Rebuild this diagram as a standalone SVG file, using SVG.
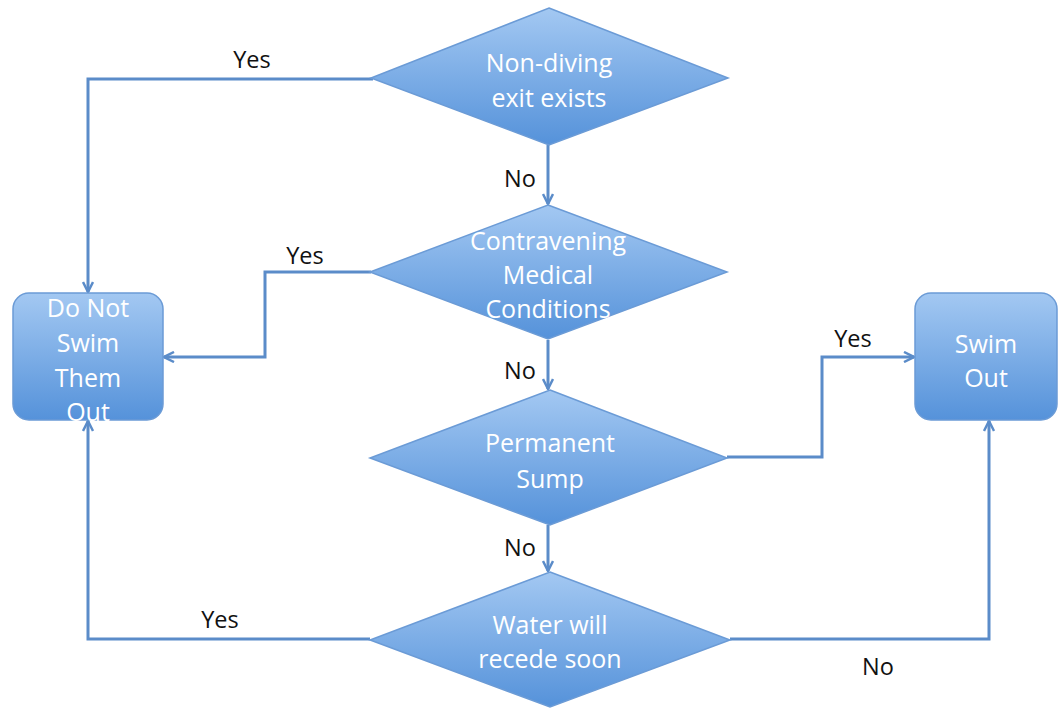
<svg xmlns="http://www.w3.org/2000/svg" width="1058" height="708" viewBox="0 0 1058 708">
<style>
.node{stroke:#6b9bd6;stroke-width:1.5;fill:url(#g)}
.nt{fill:#ffffff;font-family:"Open Sans",Lato,"Liberation Sans",sans-serif;font-size:25px;text-anchor:middle}
.lbl{fill:#111111;font-family:"Open Sans",Lato,"Liberation Sans",sans-serif;font-size:23.5px;text-anchor:middle}
.c{fill:none;stroke:#5b8cc9;stroke-width:3;marker-end:url(#a)}
</style>
<defs>
<linearGradient id="g" x1="0" y1="0" x2="0" y2="1">
<stop offset="0" stop-color="#a3c8f2"/>
<stop offset="1" stop-color="#5592da"/>
</linearGradient>
<marker id="a" viewBox="0 0 12 12" refX="11" refY="6" markerWidth="12" markerHeight="12" markerUnits="userSpaceOnUse" orient="auto">
<path d="M1,1 L11,6 L1,11" fill="none" stroke="#5b8cc9" stroke-width="2.5"/>
</marker>
</defs>
<g id="connectors">
<path class="c" d="M373,79 H88 V292"/>
<path class="c" d="M548,145 V204"/>
<path class="c" d="M371,272 H265 V357 H164"/>
<path class="c" d="M548,340 V389"/>
<path class="c" d="M727,457 H822 V357 H914"/>
<path class="c" d="M548,525 V571"/>
<path class="c" d="M370,639 H88 V421"/>
<path class="c" d="M730,639 H989 V421"/>
</g>
<g id="labels">
<text class="lbl" x="252" y="68">Yes</text>
<text class="lbl" x="520" y="187">No</text>
<text class="lbl" x="305" y="264">Yes</text>
<text class="lbl" x="520" y="379">No</text>
<text class="lbl" x="853" y="347">Yes</text>
<text class="lbl" x="520" y="556">No</text>
<text class="lbl" x="220" y="628">Yes</text>
<text class="lbl" x="878" y="675">No</text>
</g>
<g id="d1">
<polygon class="node" points="549,8 728,78 549,145 371,78"/>
<text class="nt" x="549" y="72">Non-diving</text>
<text class="nt" x="549" y="107">exit exists</text>
</g>
<g id="d2">
<polygon class="node" points="548,205 727,272 548,339 370,272"/>
<text class="nt" x="548" y="250">Contravening</text>
<text class="nt" x="548" y="284">Medical</text>
<text class="nt" x="548" y="318">Conditions</text>
</g>
<g id="d3">
<polygon class="node" points="550,390 727,458 550,525 370,458"/>
<text class="nt" x="550" y="452">Permanent</text>
<text class="nt" x="550" y="488">Sump</text>
</g>
<g id="d4">
<polygon class="node" points="550,572 730,640 550,707 370,640"/>
<text class="nt" x="550" y="634">Water will</text>
<text class="nt" x="550" y="668">recede soon</text>
</g>
<g id="b1">
<rect class="node" x="13" y="293" width="150" height="127" rx="16"/>
<text class="nt" x="88" y="317">Do Not</text>
<text class="nt" x="88" y="352">Swim</text>
<text class="nt" x="88" y="387">Them</text>
<text class="nt" x="88" y="421">Out</text>
</g>
<g id="b2">
<rect class="node" x="915" y="293" width="142" height="127" rx="16"/>
<text class="nt" x="986" y="353">Swim</text>
<text class="nt" x="986" y="387">Out</text>
</g>
</svg>
